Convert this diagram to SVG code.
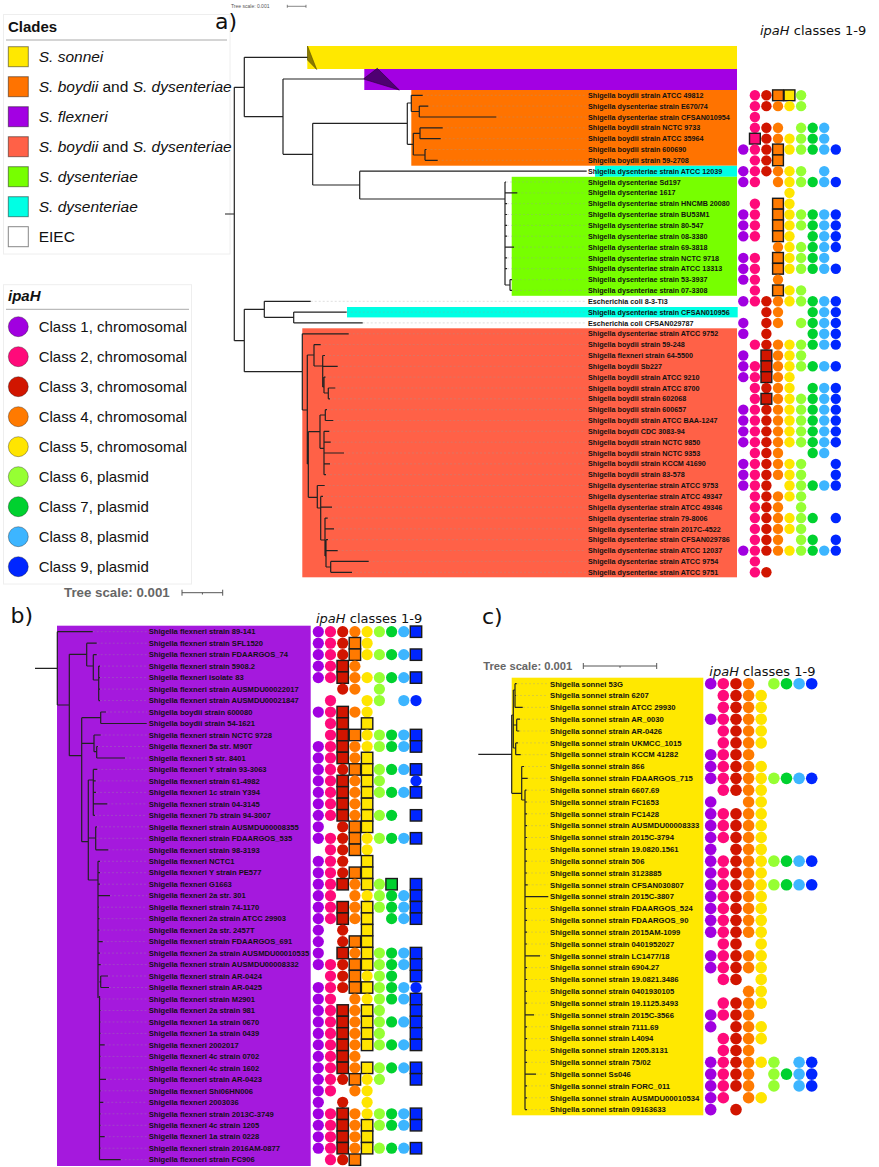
<svg xmlns="http://www.w3.org/2000/svg" xmlns:xlink="http://www.w3.org/1999/xlink" width="879" height="1167" viewBox="0 0 879 1167">
<style>
.k1{fill:#a100e0}.k2{fill:#ff0a7a}.k3{fill:#d11500}.k4{fill:#ff7a00}.k5{fill:#ffe500}.k6{fill:#96ff33}.k7{fill:#00d12f}.k8{fill:#3db5ff}.k9{fill:#0026ff}
.bx{stroke:#1a1a1a;stroke-width:1.4}
.ta{font:bold 7.2px "Liberation Sans",Arial,sans-serif;fill:#111}
.tb{font:bold 7.6px "Liberation Sans",Arial,sans-serif;fill:#111}
.tc{font:bold 7.7px "Liberation Sans",Arial,sans-serif;fill:#111}
.tree{fill:none;stroke:#222;stroke-width:1.2}
.dash{fill:none;stroke:#999;stroke-width:.6;stroke-dasharray:2 2;opacity:.55}
.lg{font:15.5px "Liberation Sans",Arial,sans-serif;fill:#111}
.lc{font:15px "Liberation Sans",Arial,sans-serif;fill:#111}
.it{font-style:italic}
.hd{font:13px "DejaVu Sans",sans-serif;fill:#111}
.pl{font:22px "DejaVu Sans",sans-serif;fill:#111}
.sq{stroke:rgba(0,0,0,.45);stroke-width:1}
.lcirc{stroke:rgba(0,0,0,.4);stroke-width:.8}
</style>
<defs>
<circle id="A1" cx="743.3" r="5.2" class="k1"/><circle id="A2" cx="754.9" r="5.2" class="k2"/><circle id="A3" cx="766.4" r="5.2" class="k3"/><circle id="A4" cx="778" r="5.2" class="k4"/><circle id="A5" cx="789.5" r="5.2" class="k5"/><circle id="A6" cx="801.1" r="5.2" class="k6"/><circle id="A7" cx="812.7" r="5.2" class="k7"/><circle id="A8" cx="824.2" r="5.2" class="k8"/><circle id="A9" cx="835.8" r="5.2" class="k9"/>
<rect id="A2b" x="749.5" y="-5.4" width="10.8" height="10.8" class="k2 bx"/><rect id="A3b" x="761" y="-5.4" width="10.8" height="10.8" class="k3 bx"/><rect id="A4b" x="772.6" y="-5.4" width="10.8" height="10.8" class="k4 bx"/><rect id="A5b" x="784.1" y="-5.4" width="10.8" height="10.8" class="k5 bx"/>
<g id="Aall"><use href="#A1"/><use href="#A2"/><use href="#A3"/><use href="#A4"/><use href="#A5"/><use href="#A6"/><use href="#A7"/><use href="#A8"/><use href="#A9"/></g>
<circle id="B1" cx="318.3" r="5.6" class="k1"/><circle id="B2" cx="330.5" r="5.6" class="k2"/><circle id="B3" cx="342.7" r="5.6" class="k3"/><circle id="B4" cx="354.9" r="5.6" class="k4"/><circle id="B5" cx="367.1" r="5.6" class="k5"/><circle id="B6" cx="379.4" r="5.6" class="k6"/><circle id="B7" cx="391.6" r="5.6" class="k7"/><circle id="B8" cx="403.8" r="5.6" class="k8"/><circle id="B9" cx="416" r="5.6" class="k9"/>
<rect id="B3b" x="337" y="-5.7" width="11.4" height="11.4" class="k3 bx"/><rect id="B4b" x="349.2" y="-5.7" width="11.4" height="11.4" class="k4 bx"/><rect id="B5b" x="361.4" y="-5.7" width="11.4" height="11.4" class="k5 bx"/><rect id="B7b" x="385.9" y="-5.7" width="11.4" height="11.4" class="k7 bx"/><rect id="B9b" x="410.3" y="-5.7" width="11.4" height="11.4" class="k9 bx"/>
<g id="Bf"><use href="#B1"/><use href="#B2"/><use href="#B3b"/><use href="#B4"/><use href="#B5b"/><use href="#B6"/><use href="#B7"/><use href="#B8"/><use href="#B9b"/></g>
<circle id="C1" cx="710.7" r="5.8" class="k1"/><circle id="C2" cx="723.3" r="5.8" class="k2"/><circle id="C3" cx="736" r="5.8" class="k3"/><circle id="C4" cx="748.6" r="5.8" class="k4"/><circle id="C5" cx="761.2" r="5.8" class="k5"/><circle id="C6" cx="773.9" r="5.8" class="k6"/><circle id="C7" cx="786.5" r="5.8" class="k7"/><circle id="C8" cx="799.1" r="5.8" class="k8"/><circle id="C9" cx="811.7" r="5.8" class="k9"/>
<g id="Cg"><use href="#C2"/><use href="#C3"/><use href="#C4"/><use href="#C5"/></g>
<g id="Cf"><use href="#C1"/><use href="#Cg"/></g>
<g id="Call"><use href="#Cf"/><use href="#C6"/><use href="#C7"/><use href="#C8"/><use href="#C9"/></g>
</defs>
<rect width="879" height="1167" fill="#fff"/>

<!-- Legends -->
<g id="legend-clades">
<rect x="3.5" y="14.5" width="226.5" height="239.5" fill="#fff" stroke="#eee"/>
<text x="8" y="31.5" style="font:bold 15px 'Liberation Sans',Arial,sans-serif;fill:#111">Clades</text>
<line x1="6" y1="40" x2="227" y2="40" stroke="#aaa"/>
<rect x="8.3" y="46.7" width="20" height="20" fill="#ffe800" class="sq"/><text class="lg it" x="38.7" y="62.2">S. sonnei</text>
<rect x="8.3" y="76.7" width="20" height="20" fill="#ff7300" class="sq"/><text class="lg" x="38.7" y="92.2"><tspan class="it">S. boydii</tspan> and <tspan class="it">S. dysenteriae</tspan></text>
<rect x="8.3" y="106.7" width="20" height="20" fill="#a300e3" class="sq"/><text class="lg it" x="38.7" y="122.2">S. flexneri</text>
<rect x="8.3" y="136.7" width="20" height="20" fill="#ff6147" class="sq"/><text class="lg" x="38.7" y="152.2"><tspan class="it">S. boydii</tspan> and <tspan class="it">S. dysenteriae</tspan></text>
<rect x="8.3" y="166.7" width="20" height="20" fill="#77ff00" class="sq"/><text class="lg it" x="38.7" y="182.2">S. dysenteriae</text>
<rect x="8.3" y="196.7" width="20" height="20" fill="#00ffe4" class="sq"/><text class="lg it" x="38.7" y="212.2">S. dysenteriae</text>
<rect x="8.3" y="226.7" width="20" height="20" fill="#fff" stroke="#888"/><text class="lg" x="38.7" y="242.2">EIEC</text>
</g>
<g id="legend-ipah">
<rect x="3.5" y="284.7" width="188" height="299.3" fill="#fff" stroke="#eee"/>
<text x="8" y="300.5" style="font:italic bold 15px 'Liberation Sans',Arial,sans-serif;fill:#111">ipaH</text>
<line x1="6" y1="309.3" x2="189" y2="309.3" stroke="#aaa"/>
<circle cx="18.3" cy="326.7" r="10" class="k1 lcirc"/><text class="lc" x="38.7" y="332.1">Class 1, chromosomal</text>
<circle cx="18.3" cy="356.7" r="10" class="k2 lcirc"/><text class="lc" x="38.7" y="362.1">Class 2, chromosomal</text>
<circle cx="18.3" cy="386.7" r="10" class="k3 lcirc"/><text class="lc" x="38.7" y="392.1">Class 3, chromosomal</text>
<circle cx="18.3" cy="416.7" r="10" class="k4 lcirc"/><text class="lc" x="38.7" y="422.1">Class 4, chromosomal</text>
<circle cx="18.3" cy="446.7" r="10" class="k5 lcirc"/><text class="lc" x="38.7" y="452.1">Class 5, chromosomal</text>
<circle cx="18.3" cy="476.7" r="10" class="k6 lcirc"/><text class="lc" x="38.7" y="482.1">Class 6, plasmid</text>
<circle cx="18.3" cy="506.7" r="10" class="k7 lcirc"/><text class="lc" x="38.7" y="512.1">Class 7, plasmid</text>
<circle cx="18.3" cy="536.7" r="10" class="k8 lcirc"/><text class="lc" x="38.7" y="542.1">Class 8, plasmid</text>
<circle cx="18.3" cy="566.7" r="10" class="k9 lcirc"/><text class="lc" x="38.7" y="572.1">Class 9, plasmid</text>
</g>
<g id="scale-legend">
<text x="64" y="597.3" style="font:bold 13.3px 'Liberation Sans',Arial,sans-serif;fill:#666">Tree scale: 0.001</text>
<path d="M182,592.7H222.7M182,589.7V595.7M222.7,589.7V595.7M202.4,592.7V594.5" stroke="#555" fill="none"/>
</g>

<!-- Panel a -->
<g id="panel-a-header">
<text x="231" y="8.3" style="font:5px 'Liberation Sans',Arial,sans-serif;fill:#555">Tree scale: 0.001</text>
<path d="M287.3,6.3H306M287.3,4.8V7.8M306,4.8V7.8" stroke="#555" stroke-width=".7" fill="none"/>
<text class="pl" x="215" y="28.5">a)</text>
<text class="hd" x="760" y="35"><tspan font-style="italic">ipaH</tspan> classes 1-9</text>
</g>
<g id="panel-a-bands">
<rect x="307.3" y="46" width="429.7" height="23" fill="#ffe800"/>
<rect x="364.3" y="69" width="372.7" height="21" fill="#a300e3"/>
<rect x="411.3" y="90" width="325.7" height="75.7" fill="#ff7300"/>
<rect x="595" y="165.8" width="142" height="11" fill="#00ffe4"/>
<rect x="511.7" y="176.8" width="225.3" height="119" fill="#77ff00"/>
<rect x="347" y="307" width="390.7" height="10.4" fill="#00ffe4"/>
<rect x="302.3" y="328.3" width="434.7" height="249" fill="#ff6147"/>
</g>
<g id="a-clade-sonnei"><polygon points="307.5,46 307.5,60 316.7,69.5" fill="#8a7a00" stroke="#5a5000" stroke-width=".6"/></g>
<g id="a-clade-flexneri"><polygon points="363.3,79 377.3,68.3 399.3,90" fill="#4f0072" stroke="#2a003d" stroke-width=".6"/></g>
<g id="a-connectors">
<path class="dash" d="M422.7,95.3H586M428.3,106.1H586M496.3,117H586M442.7,127.8H586M440.7,138.7H586M426.5,149.5H586M437.7,160.3H586M506,182H586M517.3,192.9H586M507,203.7H586M507,214.5H586M507,225.4H586M507,236.2H586M514,247.1H586M507,257.9H586M507,268.7H586M512,279.6H586M512,290.4H586M310.7,301.3H586M346.7,312.1H586M362.7,322.9H586M348.7,333.8H586M320.7,344.6H586M325,355.5H586M337.7,366.3H586M325.5,377.1H586M335.3,388H586M330,398.8H586M327,409.7H586M333.3,420.5H586M329.3,431.3H586M330.7,442.2H586M344,453H586M330,463.9H586M326,474.7H586M324.7,485.5H586M323,496.4H586M332,507.2H586M327.7,518.1H586M334,528.9H586M328,539.7H586M337.7,550.6H586M368.7,561.4H586M352,572.3H586"/>
<path class="tree" d="M225,214H234.3M234.3,87.3V340.7M234.3,87.3H244.3M244.3,57.3V116.7M244.3,57.3H307.5M244.3,116.7H283M283,79V154.3M283,79H363.3M283,154.3H312.7M312.7,123.3V185M312.7,123.3H407.3M407.3,103V144.3M407.3,103H411.3M411.3,95.3V111.5M411.3,95.3H422.7M411.3,111.5H419.3M419.3,106.1V117M419.3,106.1H428.3M419.3,117H496.3M407.3,144.3H413.3M413.3,133.3V155M413.3,133.3H420M420,127.8V138.7M420,127.8H442.7M420,138.7H440.7M413.3,155H425M425,149.5V160.3M425,149.5H426.5M425,160.3H437.7M312.7,185H359.7M359.7,171.2V199M359.7,171.2H586.7M359.7,199H505M505,182V285M505,182H506M505,192.9H517.3M505,203.7H507M505,214.5H507M505,225.4H507M505,236.2H507M505,247.1H514M505,257.9H507M505,268.7H507M505,285H510M510,279.6V290.4M510,279.6H512M510,290.4H512"/>
<path class="tree" d="M234.3,340.7H244.3M244.3,309.3V371.7M244.3,309.3H264.3M264.3,301.3V317.3M264.3,301.3H310.7M264.3,317.3H293.7M293.7,312.1V322.9M293.7,312.1H346.7M293.7,322.9H362.7M244.3,371.7H302.3M302.3,333.8V410M302.3,333.8H348.7M302.3,410H307.3M307.3,355V464M307.3,355H314M314,344.6V366M314,344.6H320.7M314,366H322.7M322.7,355.5V387M322.7,355.5H325M322.7,366.3H337.7M322.7,387H324M324,377.1V393M324,377.1H325.5M324,393H328.3M328.3,388V398.8M328.3,388H335.3M328.3,398.8H330M307.3,464H308.3M308.3,431.7V497.3M308.3,431.7H320M320,415V448.3M320,415H325.3M325.3,409.7V420.5M325.3,409.7H327M325.3,420.5H333.3M320,448.3H324M324,431.3V474.7M324,431.3H329.3M324,442.2H330.7M324,453H344M324,463.9H330M324,474.7H326M308.3,497.3H317.3M317.3,485.5V508M317.3,485.5H324.7M317.3,508H320.7M320.7,496.4V540M320.7,496.4H323M320.7,507.2H332M320.7,540H325M325,518.1V556M325,518.1H327.7M325,528.9H334M325,556H326M326,539.7V567M326,539.7H328M326,550.6H337.7M326,567H330.7M330.7,561.4V572.3M330.7,561.4H368.7M330.7,572.3H352"/>
</g>
<g id="a0" transform="translate(0,95.3)"><text class="ta" x="588" y="2.6">Shigella boydii strain ATCC 49812</text><use href="#A2"/><use href="#A3"/><use href="#A4b"/><use href="#A5b"/><use href="#A6"/></g>
<g id="a1" transform="translate(0,106.14)"><text class="ta" x="588" y="2.6">Shigella dysenteriae strain E670/74</text><use href="#A2"/><use href="#A3"/><use href="#A4"/><use href="#A5"/><use href="#A6"/></g>
<g id="a2" transform="translate(0,116.98)"><text class="ta" x="588" y="2.6">Shigella dysenteriae strain CFSAN010954</text><use href="#A2"/></g>
<g id="a3" transform="translate(0,127.82)"><text class="ta" x="588" y="2.6">Shigella boydii strain NCTC 9733</text><use href="#A2"/><use href="#A3"/><use href="#A4"/><use href="#A6"/><use href="#A7"/><use href="#A8"/></g>
<g id="a4" transform="translate(0,138.66)"><text class="ta" x="588" y="2.6">Shigella boydii strain ATCC 35964</text><use href="#A2b"/><use href="#A3"/><use href="#A4"/><use href="#A5"/><use href="#A6"/><use href="#A7"/><use href="#A8"/></g>
<g id="a5" transform="translate(0,149.5)"><text class="ta" x="588" y="2.6">Shigella boydii strain 600690</text><use href="#A1"/><use href="#A2"/><use href="#A3"/><use href="#A4b"/><use href="#A5"/><use href="#A6"/><use href="#A7"/><use href="#A8"/><use href="#A9"/></g>
<g id="a6" transform="translate(0,160.34)"><text class="ta" x="588" y="2.6">Shigella boydii strain 59-2708</text><use href="#A2"/><use href="#A3"/><use href="#A4b"/></g>
<g id="a7" transform="translate(0,171.18)"><text class="ta" x="588" y="2.6">Shigella dysenteriae strain ATCC 12039</text><use href="#A1"/><use href="#A2"/><use href="#A3"/><use href="#A4"/><use href="#A5"/><use href="#A6"/><use href="#A8"/></g>
<g id="a8" transform="translate(0,182.02)"><text class="ta" x="588" y="2.6">Shigella dysenteriae Sd197</text><use href="#A1"/><use href="#A2"/><use href="#A4"/><use href="#A5"/><use href="#A6"/><use href="#A7"/><use href="#A8"/><use href="#A9"/></g>
<g id="a9" transform="translate(0,192.86)"><text class="ta" x="588" y="2.6">Shigella dysenteriae 1617</text><use href="#A5"/></g>
<g id="a10" transform="translate(0,203.7)"><text class="ta" x="588" y="2.6">Shigella dysenteriae strain HNCMB 20080</text><use href="#A2"/><use href="#A4b"/><use href="#A5"/></g>
<g id="a11" transform="translate(0,214.54)"><text class="ta" x="588" y="2.6">Shigella dysenteriae strain BU53M1</text><use href="#A1"/><use href="#A2"/><use href="#A4b"/><use href="#A5"/><use href="#A6"/><use href="#A7"/><use href="#A8"/><use href="#A9"/></g>
<g id="a12" transform="translate(0,225.38)"><text class="ta" x="588" y="2.6">Shigella dysenteriae strain 80-547</text><use href="#A1"/><use href="#A2"/><use href="#A4b"/><use href="#A5"/><use href="#A6"/><use href="#A7"/><use href="#A8"/><use href="#A9"/></g>
<g id="a13" transform="translate(0,236.22)"><text class="ta" x="588" y="2.6">Shigella dysenteriae strain 08-3380</text><use href="#A1"/><use href="#A2"/><use href="#A4b"/><use href="#A5"/><use href="#A7"/><use href="#A8"/><use href="#A9"/></g>
<g id="a14" transform="translate(0,247.06)"><text class="ta" x="588" y="2.6">Shigella dysenteriae strain 69-3818</text><use href="#A4"/><use href="#A5"/><use href="#A6"/><use href="#A7"/><use href="#A8"/><use href="#A9"/></g>
<g id="a15" transform="translate(0,257.9)"><text class="ta" x="588" y="2.6">Shigella dysenteriae strain NCTC 9718</text><use href="#A1"/><use href="#A2"/><use href="#A4b"/><use href="#A5"/><use href="#A6"/><use href="#A7"/><use href="#A8"/></g>
<g id="a16" transform="translate(0,268.74)"><text class="ta" x="588" y="2.6">Shigella dysenteriae strain ATCC 13313</text><use href="#A1"/><use href="#A2"/><use href="#A4b"/><use href="#A5"/><use href="#A6"/><use href="#A7"/><use href="#A8"/><use href="#A9"/></g>
<g id="a17" transform="translate(0,279.58)"><text class="ta" x="588" y="2.6">Shigella dysenteriae strain 53-3937</text><use href="#A1"/><use href="#A2"/><use href="#A4"/></g>
<g id="a18" transform="translate(0,290.42)"><text class="ta" x="588" y="2.6">Shigella dysenteriae strain 07-3308</text><use href="#A2"/><use href="#A4b"/><use href="#A5"/><use href="#A6"/></g>
<g id="a19" transform="translate(0,301.26)"><text class="ta" x="588" y="2.6">Escherichia coli 8-3-Ti3</text><use href="#Aall"/></g>
<g id="a20" transform="translate(0,312.1)"><text class="ta" x="588" y="2.6">Shigella dysenteriae strain CFSAN010956</text><use href="#A3"/><use href="#A4"/><use href="#A7"/><use href="#A8"/><use href="#A9"/></g>
<g id="a21" transform="translate(0,322.94)"><text class="ta" x="588" y="2.6">Escherichia coli CFSAN029787</text><use href="#A1"/><use href="#A3"/><use href="#A4"/><use href="#A6"/><use href="#A7"/><use href="#A8"/><use href="#A9"/></g>
<g id="a22" transform="translate(0,333.78)"><text class="ta" x="588" y="2.6">Shigella dysenteriae strain ATCC 9752</text><use href="#A1"/><use href="#A3"/><use href="#A7"/><use href="#A8"/><use href="#A9"/></g>
<g id="a23" transform="translate(0,344.62)"><text class="ta" x="588" y="2.6">Shigella boydii strain 59-248</text><use href="#A2"/><use href="#A3"/><use href="#A4"/><use href="#A5"/><use href="#A6"/><use href="#A7"/><use href="#A8"/><use href="#A9"/></g>
<g id="a24" transform="translate(0,355.46)"><text class="ta" x="588" y="2.6">Shigella flexneri strain 64-5500</text><use href="#A1"/><use href="#A3b"/><use href="#A4"/><use href="#A5"/><use href="#A6"/></g>
<g id="a25" transform="translate(0,366.3)"><text class="ta" x="588" y="2.6">Shigella boydii Sb227</text><use href="#A1"/><use href="#A2"/><use href="#A3b"/><use href="#A4"/><use href="#A5"/><use href="#A6"/><use href="#A7"/><use href="#A8"/><use href="#A9"/></g>
<g id="a26" transform="translate(0,377.14)"><text class="ta" x="588" y="2.6">Shigella boydii strain ATCC 9210</text><use href="#A1"/><use href="#A2"/><use href="#A3b"/><use href="#A4"/><use href="#A5"/></g>
<g id="a27" transform="translate(0,387.98)"><text class="ta" x="588" y="2.6">Shigella boydii strain ATCC 8700</text><use href="#A2"/><use href="#A3"/><use href="#A4"/><use href="#A5"/><use href="#A7"/><use href="#A8"/><use href="#A9"/></g>
<g id="a28" transform="translate(0,398.82)"><text class="ta" x="588" y="2.6">Shigella boydii strain 602068</text><use href="#A2"/><use href="#A3b"/><use href="#A4"/><use href="#A5"/><use href="#A6"/><use href="#A7"/><use href="#A8"/><use href="#A9"/></g>
<g id="a29" transform="translate(0,409.66)"><text class="ta" x="588" y="2.6">Shigella boydii strain 600657</text><use href="#Aall"/></g>
<g id="a30" transform="translate(0,420.5)"><text class="ta" x="588" y="2.6">Shigella boydii strain ATCC BAA-1247</text><use href="#Aall"/></g>
<g id="a31" transform="translate(0,431.34)"><text class="ta" x="588" y="2.6">Shigella boydii CDC 3083-94</text><use href="#Aall"/></g>
<g id="a32" transform="translate(0,442.18)"><text class="ta" x="588" y="2.6">Shigella boydii strain NCTC 9850</text><use href="#Aall"/></g>
<g id="a33" transform="translate(0,453.02)"><text class="ta" x="588" y="2.6">Shigella boydii strain NCTC 9353</text><use href="#A2"/><use href="#A3"/><use href="#A4"/><use href="#A7"/><use href="#A8"/></g>
<g id="a34" transform="translate(0,463.86)"><text class="ta" x="588" y="2.6">Shigella boydii strain KCCM 41690</text><use href="#A1"/><use href="#A2"/><use href="#A3"/><use href="#A4"/><use href="#A5"/><use href="#A6"/><use href="#A9"/></g>
<g id="a35" transform="translate(0,474.7)"><text class="ta" x="588" y="2.6">Shigella boydii strain 83-578</text><use href="#A1"/><use href="#A2"/><use href="#A3"/><use href="#A4"/><use href="#A5"/><use href="#A6"/><use href="#A9"/></g>
<g id="a36" transform="translate(0,485.54)"><text class="ta" x="588" y="2.6">Shigella dysenteriae strain ATCC 9753</text><use href="#A1"/><use href="#A2"/><use href="#A3"/><use href="#A5"/><use href="#A6"/><use href="#A7"/><use href="#A8"/><use href="#A9"/></g>
<g id="a37" transform="translate(0,496.38)"><text class="ta" x="588" y="2.6">Shigella dysenteriae strain ATCC 49347</text><use href="#A2"/><use href="#A3"/><use href="#A4"/><use href="#A5"/><use href="#A6"/></g>
<g id="a38" transform="translate(0,507.22)"><text class="ta" x="588" y="2.6">Shigella dysenteriae strain ATCC 49346</text><use href="#A2"/><use href="#A3"/><use href="#A4"/><use href="#A6"/></g>
<g id="a39" transform="translate(0,518.06)"><text class="ta" x="588" y="2.6">Shigella dysenteriae strain 79-8006</text><use href="#A2"/><use href="#A3"/><use href="#A4"/><use href="#A5"/><use href="#A6"/><use href="#A7"/><use href="#A9"/></g>
<g id="a40" transform="translate(0,528.9)"><text class="ta" x="588" y="2.6">Shigella dysenteriae strain 2017C-4522</text><use href="#A2"/><use href="#A3"/><use href="#A4"/><use href="#A5"/><use href="#A6"/></g>
<g id="a41" transform="translate(0,539.74)"><text class="ta" x="588" y="2.6">Shigella dysenteriae strain CFSAN029786</text><use href="#A2"/><use href="#A3"/><use href="#A4"/><use href="#A6"/><use href="#A7"/><use href="#A9"/></g>
<g id="a42" transform="translate(0,550.58)"><text class="ta" x="588" y="2.6">Shigella dysenteriae strain ATCC 12037</text><use href="#Aall"/></g>
<g id="a43" transform="translate(0,561.42)"><text class="ta" x="588" y="2.6">Shigella dysenteriae strain ATCC 9754</text><use href="#A2"/></g>
<g id="a44" transform="translate(0,572.26)"><text class="ta" x="588" y="2.6">Shigella dysenteriae strain ATCC 9751</text><use href="#A2"/><use href="#A3"/></g>

<!-- Panel b -->
<g id="panel-b-header">
<text class="pl" x="10.5" y="623.3">b)</text>
<text class="hd" x="316" y="623.3"><tspan font-style="italic">ipaH</tspan> classes 1-9</text>
</g>
<rect id="b-band" x="57" y="625.7" width="253.7" height="540.3" fill="#a519dd"/>
<g id="b-connectors">
<path class="dash" d="M92.7,631.7H147M96.7,643.2H147M96.7,654.7H147M100,666.1H147M100,677.6H147M100,689.1H147M100,700.6H147M106,712H147M100.7,735H147M98,746.5H147M125,758H147M97.3,769.4H147M95.7,780.9H147M96,792.4H147M107.3,803.9H147M95,815.4H147M97,826.8H147M96.3,838.3H147M108.3,849.8H147M100,861.3H147M100,872.7H147M100,884.2H147M110,895.7H147M99,907.2H147M99.5,918.7H147M99.3,930.1H147M102.7,941.6H147M100,953.1H147M100.7,964.6H147M108,976H147M109,987.5H147M100.5,999H147M100.5,1010.5H147M100.5,1022H147M100.5,1033.4H147M104.7,1044.9H147M100.5,1056.4H147M100.5,1067.9H147M106,1079.3H147M100.5,1090.8H147M103.3,1102.3H147M100.5,1113.8H147M100.5,1125.3H147M104.7,1136.7H147M100.5,1148.2H147M120.7,1159.7H147"/>
<path class="tree" d="M35,668.3H57.3M57.3,631.7V705M57.3,631.7H92.7M57.3,705H69.3M69.3,654.3V755.7M69.3,654.3H86.7M86.7,643.2V666M86.7,643.2H96.7M86.7,666H93.3M93.3,654.7V680M93.3,654.7H96.7M93.3,680H98.7M98.7,666.1V700.6M98.7,666.1H100M98.7,677.6H100M98.7,689.1H100M98.7,700.6H100M69.3,755.7H81.7M81.7,717.7V841.7M81.7,717.7H100.7M100.7,712V723.5M100.7,712H106M100.7,723.5H146.7M81.7,743.3H94M94,735V751.7M94,735H100.7M94,751.7H96.7M96.7,746.5V758M96.7,746.5H98M96.7,758H125M81.7,841.7H88.3M88.3,780V880M88.3,780H93.3M93.3,769.4V815.4M93.3,769.4H97.3M93.3,780.9H95.7M93.3,792.4H96M93.3,803.9H107.3M93.3,815.4H95M88.3,838H95.7M95.7,826.8V849.8M95.7,826.8H97M95.7,838.3H96.3M95.7,849.8H108.3M88.3,880H98M98,861.3V998M99.5,996V1159.7M98,861.3H100M98,872.7H100M98,884.2H100M98,895.7H110M98,907.2H99M98,918.7H99.5M98,930.1H99.3M98,941.6H102.7M98,953.1H100M98,964.6H100.7M99.5,981.8H100.7M100.7,976V987.5M100.7,976H108M100.7,987.5H109M99.5,999H100.5M99.5,1010.5H100.5M99.5,1022H100.5M99.5,1033.4H100.5M99.5,1044.9H104.7M99.5,1056.4H100.5M99.5,1067.9H100.5M99.5,1079.3H106M99.5,1090.8H100.5M99.5,1102.3H103.3M99.5,1113.8H100.5M99.5,1125.3H100.5M99.5,1136.7H104.7M99.5,1148.2H100.5M99.5,1159.7H120.7"/>
</g>
<g id="b0" transform="translate(0,631.7)"><text class="tb" x="148.7" y="2.75">Shigella flexneri strain 89-141</text><use href="#B1"/><use href="#B2"/><use href="#B3"/><use href="#B4"/><use href="#B5"/><use href="#B6"/><use href="#B7"/><use href="#B8"/><use href="#B9b"/></g>
<g id="b1" transform="translate(0,643.18)"><text class="tb" x="148.7" y="2.75">Shigella flexneri strain SFL1520</text><use href="#B1"/><use href="#B2"/><use href="#B3"/><use href="#B4b"/><use href="#B5"/></g>
<g id="b2" transform="translate(0,654.66)"><text class="tb" x="148.7" y="2.75">Shigella flexneri strain FDAARGOS_74</text><use href="#B1"/><use href="#B2"/><use href="#B3"/><use href="#B4b"/><use href="#B5"/><use href="#B6"/><use href="#B7"/><use href="#B8"/><use href="#B9b"/></g>
<g id="b3" transform="translate(0,666.13)"><text class="tb" x="148.7" y="2.75">Shigella flexneri strain 5908.2</text><use href="#B1"/><use href="#B2"/><use href="#B3b"/><use href="#B4"/></g>
<g id="b4" transform="translate(0,677.61)"><text class="tb" x="148.7" y="2.75">Shigella flexneri isolate 83</text><use href="#B1"/><use href="#B2"/><use href="#B3b"/><use href="#B4"/><use href="#B5"/><use href="#B6"/><use href="#B7"/><use href="#B8"/><use href="#B9b"/></g>
<g id="b5" transform="translate(0,689.09)"><text class="tb" x="148.7" y="2.75">Shigella flexneri strain AUSMDU00022017</text><use href="#B3"/><use href="#B4"/><use href="#B6"/></g>
<g id="b6" transform="translate(0,700.57)"><text class="tb" x="148.7" y="2.75">Shigella flexneri strain AUSMDU00021847</text><use href="#B2"/><use href="#B5"/><use href="#B6"/><use href="#B8"/><use href="#B9"/></g>
<g id="b7" transform="translate(0,712.05)"><text class="tb" x="148.7" y="2.75">Shigella boydii strain 600080</text><use href="#B1"/><use href="#B2"/><use href="#B3b"/><use href="#B4"/><use href="#B5"/></g>
<g id="b8" transform="translate(0,723.52)"><text class="tb" x="148.7" y="2.75">Shigella boydii strain 54-1621</text><use href="#B2"/><use href="#B3b"/><use href="#B5b"/></g>
<g id="b9" transform="translate(0,735)"><text class="tb" x="148.7" y="2.75">Shigella flexneri strain NCTC 9728</text><use href="#B2"/><use href="#B3b"/><use href="#B4b"/><use href="#B5"/><use href="#B6"/><use href="#B7"/><use href="#B8"/><use href="#B9b"/></g>
<g id="b10" transform="translate(0,746.48)"><text class="tb" x="148.7" y="2.75">Shigella flexneri 5a str. M90T</text><use href="#B1"/><use href="#B2"/><use href="#B3b"/><use href="#B4"/><use href="#B5"/><use href="#B6"/><use href="#B7"/><use href="#B8"/><use href="#B9b"/></g>
<g id="b11" transform="translate(0,757.96)"><text class="tb" x="148.7" y="2.75">Shigella flexneri 5 str. 8401</text><use href="#B1"/><use href="#B2"/><use href="#B3b"/><use href="#B4"/><use href="#B5b"/></g>
<g id="b12" transform="translate(0,769.44)"><text class="tb" x="148.7" y="2.75">Shigella flexneri Y strain 93-3063</text><use href="#B1"/><use href="#B2"/><use href="#B3"/><use href="#B4b"/><use href="#B5b"/><use href="#B6"/><use href="#B7"/><use href="#B8"/><use href="#B9b"/></g>
<g id="b13" transform="translate(0,780.91)"><text class="tb" x="148.7" y="2.75">Shigella flexneri strain 61-4982</text><use href="#B1"/><use href="#B2"/><use href="#B3b"/><use href="#B4"/><use href="#B5b"/><use href="#B6"/><use href="#B9"/></g>
<g id="b14" transform="translate(0,792.39)"><text class="tb" x="148.7" y="2.75">Shigella flexneri 1c strain Y394</text><use href="#Bf"/></g>
<g id="b15" transform="translate(0,803.87)"><text class="tb" x="148.7" y="2.75">Shigella flexneri strain 04-3145</text><use href="#B1"/><use href="#B2"/><use href="#B3b"/><use href="#B4"/><use href="#B5b"/></g>
<g id="b16" transform="translate(0,815.35)"><text class="tb" x="148.7" y="2.75">Shigella flexneri 7b strain 94-3007</text><use href="#B1"/><use href="#B2"/><use href="#B3b"/><use href="#B4"/><use href="#B5b"/><use href="#B6"/><use href="#B7"/><use href="#B9b"/></g>
<g id="b17" transform="translate(0,826.83)"><text class="tb" x="148.7" y="2.75">Shigella flexneri strain AUSMDU00008355</text><use href="#B1"/><use href="#B3"/><use href="#B4b"/><use href="#B5b"/></g>
<g id="b18" transform="translate(0,838.3)"><text class="tb" x="148.7" y="2.75">Shigella flexneri strain FDAARGOS_535</text><use href="#B1"/><use href="#B2"/><use href="#B3"/><use href="#B4b"/><use href="#B5"/><use href="#B6"/><use href="#B7"/><use href="#B8"/><use href="#B9b"/></g>
<g id="b19" transform="translate(0,849.78)"><text class="tb" x="148.7" y="2.75">Shigella flexneri strain 98-3193</text><use href="#B2"/><use href="#B3"/><use href="#B4b"/><use href="#B5"/></g>
<g id="b20" transform="translate(0,861.26)"><text class="tb" x="148.7" y="2.75">Shigella flexneri NCTC1</text><use href="#B1"/><use href="#B2"/><use href="#B3"/><use href="#B5b"/></g>
<g id="b21" transform="translate(0,872.74)"><text class="tb" x="148.7" y="2.75">Shigella flexneri Y strain PE577</text><use href="#B1"/><use href="#B2"/><use href="#B3"/><use href="#B4b"/><use href="#B5b"/></g>
<g id="b22" transform="translate(0,884.22)"><text class="tb" x="148.7" y="2.75">Shigella flexneri G1663</text><use href="#B1"/><use href="#B2"/><use href="#B3b"/><use href="#B4"/><use href="#B5b"/><use href="#B6"/><use href="#B7b"/><use href="#B9b"/></g>
<g id="b23" transform="translate(0,895.69)"><text class="tb" x="148.7" y="2.75">Shigella flexneri 2a str. 301</text><use href="#B1"/><use href="#B2"/><use href="#B4"/><use href="#B5"/><use href="#B6"/><use href="#B7"/><use href="#B8"/><use href="#B9b"/></g>
<g id="b24" transform="translate(0,907.17)"><text class="tb" x="148.7" y="2.75">Shigella flexneri strain 74-1170</text><use href="#Bf"/></g>
<g id="b25" transform="translate(0,918.65)"><text class="tb" x="148.7" y="2.75">Shigella flexneri 2a strain ATCC 29903</text><use href="#B1"/><use href="#B2"/><use href="#B3b"/><use href="#B4"/><use href="#B5b"/><use href="#B7"/><use href="#B8"/><use href="#B9b"/></g>
<g id="b26" transform="translate(0,930.13)"><text class="tb" x="148.7" y="2.75">Shigella flexneri 2a str. 2457T</text><use href="#B1"/><use href="#B3"/><use href="#B5b"/></g>
<g id="b27" transform="translate(0,941.61)"><text class="tb" x="148.7" y="2.75">Shigella flexneri strain FDAARGOS_691</text><use href="#B1"/><use href="#B3"/><use href="#B4b"/><use href="#B5b"/></g>
<g id="b28" transform="translate(0,953.08)"><text class="tb" x="148.7" y="2.75">Shigella flexneri 2a strain AUSMDU00010535</text><use href="#B1"/><use href="#B3b"/><use href="#B4"/><use href="#B5b"/><use href="#B6"/><use href="#B7"/><use href="#B8"/><use href="#B9b"/></g>
<g id="b29" transform="translate(0,964.56)"><text class="tb" x="148.7" y="2.75">Shigella flexneri strain AUSMDU00008332</text><use href="#B1"/><use href="#B2"/><use href="#B3"/><use href="#B4b"/><use href="#B5b"/><use href="#B6"/><use href="#B7"/><use href="#B8"/><use href="#B9b"/></g>
<g id="b30" transform="translate(0,976.04)"><text class="tb" x="148.7" y="2.75">Shigella flexneri strain AR-0424</text><use href="#B2"/><use href="#B3"/><use href="#B4b"/><use href="#B5"/><use href="#B6"/><use href="#B7"/><use href="#B9b"/></g>
<g id="b31" transform="translate(0,987.52)"><text class="tb" x="148.7" y="2.75">Shigella flexneri strain AR-0425</text><use href="#B1"/><use href="#B2"/><use href="#B3"/><use href="#B4b"/><use href="#B5b"/><use href="#B6"/><use href="#B7"/><use href="#B8"/><use href="#B9"/></g>
<g id="b32" transform="translate(0,999)"><text class="tb" x="148.7" y="2.75">Shigella flexneri strain M2901</text><use href="#B1"/><use href="#B2"/><use href="#B4"/><use href="#B5"/><use href="#B6"/><use href="#B7"/><use href="#B8"/><use href="#B9b"/></g>
<g id="b33" transform="translate(0,1010.47)"><text class="tb" x="148.7" y="2.75">Shigella flexneri 2a strain 981</text><use href="#B1"/><use href="#B2"/><use href="#B3b"/><use href="#B4"/><use href="#B5b"/><use href="#B6"/><use href="#B9b"/></g>
<g id="b34" transform="translate(0,1021.95)"><text class="tb" x="148.7" y="2.75">Shigella flexneri 1a strain 0670</text><use href="#Bf"/></g>
<g id="b35" transform="translate(0,1033.43)"><text class="tb" x="148.7" y="2.75">Shigella flexneri 1a strain 0439</text><use href="#B1"/><use href="#B2"/><use href="#B3b"/><use href="#B4"/><use href="#B5b"/><use href="#B6"/><use href="#B9b"/></g>
<g id="b36" transform="translate(0,1044.91)"><text class="tb" x="148.7" y="2.75">Shigella flexneri 2002017</text><use href="#Bf"/></g>
<g id="b37" transform="translate(0,1056.39)"><text class="tb" x="148.7" y="2.75">Shigella flexneri 4c strain 0702</text><use href="#B1"/><use href="#B2"/><use href="#B3b"/><use href="#B4"/></g>
<g id="b38" transform="translate(0,1067.86)"><text class="tb" x="148.7" y="2.75">Shigella flexneri 4c strain 1602</text><use href="#Bf"/></g>
<g id="b39" transform="translate(0,1079.34)"><text class="tb" x="148.7" y="2.75">Shigella flexneri strain AR-0423</text><use href="#B1"/><use href="#B2"/><use href="#B3"/><use href="#B4b"/><use href="#B5"/><use href="#B6"/><use href="#B9b"/></g>
<g id="b40" transform="translate(0,1090.82)"><text class="tb" x="148.7" y="2.75">Shigella flexneri Shi06HN006</text><use href="#B1"/><use href="#B2"/><use href="#B4"/><use href="#B5"/></g>
<g id="b41" transform="translate(0,1102.3)"><text class="tb" x="148.7" y="2.75">Shigella flexneri 2003036</text><use href="#B1"/><use href="#B3"/><use href="#B5"/></g>
<g id="b42" transform="translate(0,1113.78)"><text class="tb" x="148.7" y="2.75">Shigella flexneri strain 2013C-3749</text><use href="#B1"/><use href="#B2"/><use href="#B3b"/><use href="#B4"/><use href="#B5"/><use href="#B6"/><use href="#B7"/><use href="#B8"/><use href="#B9b"/></g>
<g id="b43" transform="translate(0,1125.25)"><text class="tb" x="148.7" y="2.75">Shigella flexneri 4c strain 1205</text><use href="#Bf"/></g>
<g id="b44" transform="translate(0,1136.73)"><text class="tb" x="148.7" y="2.75">Shigella flexneri 1a strain 0228</text><use href="#B1"/><use href="#B2"/><use href="#B3b"/><use href="#B4"/><use href="#B5b"/></g>
<g id="b45" transform="translate(0,1148.21)"><text class="tb" x="148.7" y="2.75">Shigella flexneri strain 2016AM-0877</text><use href="#Bf"/></g>
<g id="b46" transform="translate(0,1159.69)"><text class="tb" x="148.7" y="2.75">Shigella flexneri strain FC906</text><use href="#B2"/><use href="#B3"/><use href="#B4b"/></g>

<!-- Panel c -->
<g id="panel-c-header">
<text class="pl" x="482" y="624">c)</text>
<text x="483.3" y="670" style="font:bold 11.2px 'Liberation Sans',Arial,sans-serif;fill:#666">Tree scale: 0.001</text>
<path d="M583.3,666H656.7M583.3,663V669M656.7,663V669M620,666V667.8" stroke="#555" fill="none"/>
<text class="hd" x="709.3" y="676"><tspan font-style="italic">ipaH</tspan> classes 1-9</text>
</g>
<rect id="c-band" x="511.7" y="677.7" width="191.6" height="437.6" fill="#ffe800"/>
<g id="c-connectors">
<path class="dash" d="M517,683.7H548M516,695.5H548M523,707.4H548M520,719.2H548M519.3,731H548M518,742.9H548M520.7,754.7H548M524,766.5H548M527.7,778.3H548M527,790.2H548M527,802H548M527,813.8H548M527,825.7H548M527,837.5H548M527,849.3H548M527,861.2H548M527,873H548M527.7,884.8H548M527,908.5H548M527,920.3H548M527,932.1H548M527,944H548M540,955.8H548M527,967.6H548M527,979.5H548M527,991.3H548M527,1003.1H548M534,1014.9H548M527,1026.8H548M527,1038.6H548M527,1050.4H548M527,1062.3H548M536,1074.1H548M527,1085.9H548M527,1097.8H548M527,1109.6H548"/>
<path class="tree" d="M478.3,754.3H511.7M511.7,715V793.3M511.7,715H513.3M513.3,690V748M513.3,690H515M515,683.7V707.4M515,683.7H516.7M515,695.5H516M515,707.4H522.7M513.3,725H516.7M516.7,719.2V731M516.7,719.2H520M516.7,731H519.3M513.3,748H515.7M515.7,742.9V754.7M515.7,742.9H518M515.7,754.7H520.7M511.7,793.3H521.7M521.7,766.5V800M521.7,766.5H524M521.7,778.3H527.7M521.7,800H525M525,790.2V1109.6M525,790.2H526.5M525,802H527M525,813.8H527M525,825.7H527M525,837.5H527M525,849.3H527M525,861.2H527M525,873H527M525,884.8H527.7M525,896.6H548.3M525,908.5H527M525,920.3H527M525,932.1H527M525,944H527M525,955.8H540M525,967.6H527M525,979.5H527M525,991.3H527M525,1003.1H527M525,1014.9H534M525,1026.8H527M525,1038.6H527M525,1050.4H527M525,1062.3H527M525,1074.1H536M525,1085.9H527M525,1097.8H527M525,1109.6H527"/>
</g>
<g id="c0" transform="translate(0,683.7)"><text class="tc" x="550" y="2.8">Shigella sonnei 53G</text><use href="#C1"/><use href="#C2"/><use href="#C3"/><use href="#C4"/><use href="#C6"/><use href="#C7"/><use href="#C8"/><use href="#C9"/></g>
<g id="c1" transform="translate(0,695.53)"><text class="tc" x="550" y="2.8">Shigella sonnei strain 6207</text><use href="#Cg"/></g>
<g id="c2" transform="translate(0,707.36)"><text class="tc" x="550" y="2.8">Shigella sonnei strain ATCC 29930</text><use href="#Cg"/></g>
<g id="c3" transform="translate(0,719.19)"><text class="tc" x="550" y="2.8">Shigella sonnei strain AR_0030</text><use href="#Cf"/></g>
<g id="c4" transform="translate(0,731.02)"><text class="tc" x="550" y="2.8">Shigella sonnei strain AR-0426</text><use href="#Cg"/></g>
<g id="c5" transform="translate(0,742.85)"><text class="tc" x="550" y="2.8">Shigella sonnei strain UKMCC_1015</text><use href="#Cg"/></g>
<g id="c6" transform="translate(0,754.68)"><text class="tc" x="550" y="2.8">Shigella sonnei strain KCCM 41282</text><use href="#C1"/><use href="#C2"/><use href="#C3"/><use href="#C4"/></g>
<g id="c7" transform="translate(0,766.51)"><text class="tc" x="550" y="2.8">Shigella sonnei strain 866</text><use href="#Cf"/></g>
<g id="c8" transform="translate(0,778.34)"><text class="tc" x="550" y="2.8">Shigella sonnei strain FDAARGOS_715</text><use href="#Call"/></g>
<g id="c9" transform="translate(0,790.17)"><text class="tc" x="550" y="2.8">Shigella sonnei strain 6607.69</text><use href="#Cg"/></g>
<g id="c10" transform="translate(0,802)"><text class="tc" x="550" y="2.8">Shigella sonnei strain FC1653</text><use href="#C1"/><use href="#C4"/><use href="#C5"/></g>
<g id="c11" transform="translate(0,813.83)"><text class="tc" x="550" y="2.8">Shigella sonnei strain FC1428</text><use href="#Cf"/></g>
<g id="c12" transform="translate(0,825.66)"><text class="tc" x="550" y="2.8">Shigella sonnei strain AUSMDU00008333</text><use href="#Cf"/></g>
<g id="c13" transform="translate(0,837.49)"><text class="tc" x="550" y="2.8">Shigella sonnei strain 2015C-3794</text><use href="#Cf"/></g>
<g id="c14" transform="translate(0,849.32)"><text class="tc" x="550" y="2.8">Shigella sonnei strain 19.0820.1561</text><use href="#C1"/><use href="#C3"/><use href="#C4"/><use href="#C5"/></g>
<g id="c15" transform="translate(0,861.15)"><text class="tc" x="550" y="2.8">Shigella sonnei strain 506</text><use href="#Call"/></g>
<g id="c16" transform="translate(0,872.98)"><text class="tc" x="550" y="2.8">Shigella sonnei strain 3123885</text><use href="#Cf"/></g>
<g id="c17" transform="translate(0,884.81)"><text class="tc" x="550" y="2.8">Shigella sonnei strain CFSAN030807</text><use href="#Call"/></g>
<g id="c18" transform="translate(0,896.64)"><text class="tc" x="550" y="2.8">Shigella sonnei strain 2015C-3807</text><use href="#Cf"/></g>
<g id="c19" transform="translate(0,908.47)"><text class="tc" x="550" y="2.8">Shigella sonnei strain FDAARGOS_524</text><use href="#Cf"/></g>
<g id="c20" transform="translate(0,920.3)"><text class="tc" x="550" y="2.8">Shigella sonnei strain FDAARGOS_90</text><use href="#Cf"/></g>
<g id="c21" transform="translate(0,932.13)"><text class="tc" x="550" y="2.8">Shigella sonnei strain 2015AM-1099</text><use href="#Cf"/></g>
<g id="c22" transform="translate(0,943.96)"><text class="tc" x="550" y="2.8">Shigella sonnei strain 0401952027</text><use href="#C2"/><use href="#C3"/><use href="#C5"/></g>
<g id="c23" transform="translate(0,955.79)"><text class="tc" x="550" y="2.8">Shigella sonnei strain LC1477/18</text><use href="#Cf"/></g>
<g id="c24" transform="translate(0,967.62)"><text class="tc" x="550" y="2.8">Shigella sonnei strain 6904.27</text><use href="#Cf"/></g>
<g id="c25" transform="translate(0,979.45)"><text class="tc" x="550" y="2.8">Shigella sonnei strain 19.0821.3486</text><use href="#C2"/><use href="#C3"/><use href="#C5"/></g>
<g id="c26" transform="translate(0,991.28)"><text class="tc" x="550" y="2.8">Shigella sonnei strain 0401930105</text><use href="#C4"/><use href="#C5"/></g>
<g id="c27" transform="translate(0,1003.11)"><text class="tc" x="550" y="2.8">Shigella sonnei strain 19.1125.3493</text><use href="#Cg"/></g>
<g id="c28" transform="translate(0,1014.94)"><text class="tc" x="550" y="2.8">Shigella sonnei strain 2015C-3566</text><use href="#C1"/><use href="#C2"/><use href="#C3"/><use href="#C4"/></g>
<g id="c29" transform="translate(0,1026.77)"><text class="tc" x="550" y="2.8">Shigella sonnei strain 7111.69</text><use href="#C1"/><use href="#C3"/><use href="#C4"/><use href="#C5"/></g>
<g id="c30" transform="translate(0,1038.6)"><text class="tc" x="550" y="2.8">Shigella sonnei strain L4094</text><use href="#Cg"/></g>
<g id="c31" transform="translate(0,1050.43)"><text class="tc" x="550" y="2.8">Shigella sonnei strain 1205.3131</text><use href="#C2"/><use href="#C3"/><use href="#C4"/></g>
<g id="c32" transform="translate(0,1062.26)"><text class="tc" x="550" y="2.8">Shigella sonnei strain 75/02</text><use href="#Cf"/><use href="#C6"/><use href="#C8"/><use href="#C9"/></g>
<g id="c33" transform="translate(0,1074.09)"><text class="tc" x="550" y="2.8">Shigella sonnei Ss046</text><use href="#C1"/><use href="#C2"/><use href="#C3"/><use href="#C4"/><use href="#C6"/><use href="#C7"/><use href="#C8"/><use href="#C9"/></g>
<g id="c34" transform="translate(0,1085.92)"><text class="tc" x="550" y="2.8">Shigella sonnei strain FORC_011</text><use href="#C1"/><use href="#C2"/><use href="#C3"/><use href="#C4"/><use href="#C6"/><use href="#C8"/><use href="#C9"/></g>
<g id="c35" transform="translate(0,1097.75)"><text class="tc" x="550" y="2.8">Shigella sonnei strain AUSMDU00010534</text><use href="#C1"/><use href="#C2"/><use href="#C4"/><use href="#C5"/></g>
<g id="c36" transform="translate(0,1109.58)"><text class="tc" x="550" y="2.8">Shigella sonnei strain 09163633</text><use href="#C1"/><use href="#C3"/></g>
</svg>
